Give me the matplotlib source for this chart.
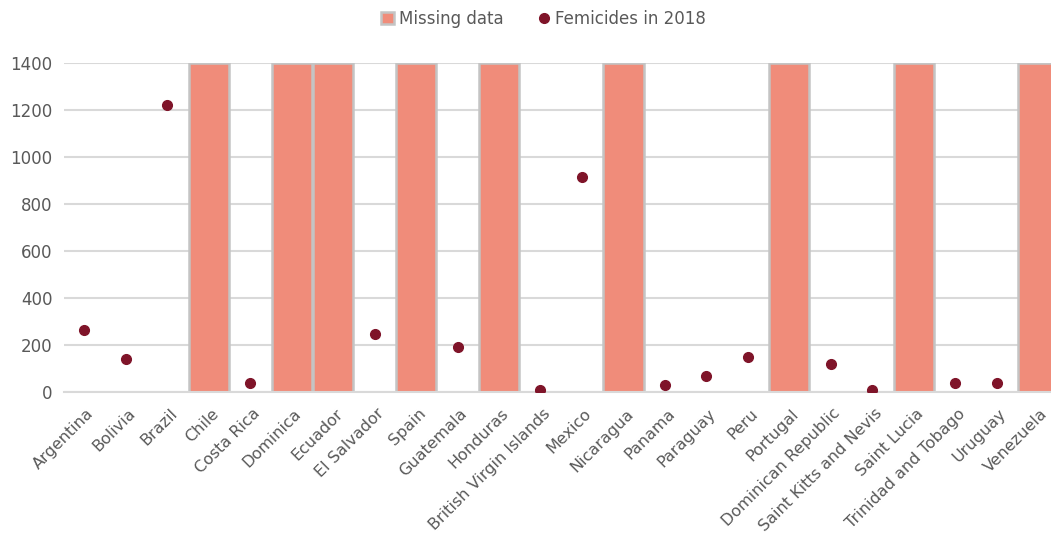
import matplotlib
matplotlib.use('Agg')
from matplotlib import pyplot as plt
from matplotlib import transforms
import numpy as np

countries = ['Argentina', 'Bolivia', 'Brazil', 'Chile', 'Costa Rica', 'Dominica',
             'Ecuador', 'El Salvador', 'Spain', 'Guatemala', 'Honduras',
             'British Virgin Islands', 'Mexico', 'Nicaragua', 'Panama', 'Paraguay',
             'Peru', 'Portugal', 'Dominican Republic', 'Saint Kitts and Nevis',
             'Saint Lucia', 'Trinidad and Tobago', 'Uruguay', 'Venezuela']

# femicides in 2018 (None = missing)
femicides = [265, 140, 1220, None, 40, None, None, 245, None, 190, None, 10,
             915, None, 30, 70, 150, None, 120, 10, None, 40, 40, None]

# missing data bars drawn to the top of the axis
missing = [0, 0, 0, 1400, 0, 1400, 1400, 0, 1400, 0, 1400, 0,
           0, 1400, 0, 0, 0, 1400, 0, 0, 1400, 0, 0, 1400]

bar_color = '#F08C7A'
dot_color = '#7F1429'
text_color = '#595959'

fig = plt.figure(figsize=(10.51, 5.41), dpi=100)
ax = fig.add_axes([0.0605, 0.2754, 0.947, 0.608])

x = np.arange(len(countries))
bars = ax.bar(x, missing, width=0.97, color=bar_color, edgecolor='#C4C4C4',
              linewidth=1.8, label='Missing data', zorder=2)

fx = [i for i, v in enumerate(femicides) if v is not None]
fy = [v for v in femicides if v is not None]
dots, = ax.plot(fx, fy, 'o', color=dot_color, markersize=7,
                label='Femicides in 2018', zorder=3)

ax.set_ylim(0, 1400)
ax.set_xlim(-0.5, len(countries) - 0.5)
ax.set_yticks(range(0, 1401, 200))
ax.yaxis.grid(True, color='#D9D9D9', linewidth=1.5, zorder=0)
ax.set_axisbelow(True)
for s in ['top', 'right', 'left']:
    ax.spines[s].set_visible(False)
ax.spines['bottom'].set_color('#D9D9D9')
ax.spines['bottom'].set_linewidth(1.5)

ax.tick_params(axis='both', length=0, colors=text_color, labelsize=11.5)
ax.tick_params(axis='y', labelsize=12, pad=8)
ax.tick_params(axis='x', pad=10)
ax.set_xticks(x)
ax.set_xticklabels(countries, rotation=45, ha='right', rotation_mode='anchor')
shift = transforms.ScaledTranslation(2 / 100, 0, fig.dpi_scale_trans)
for lab in ax.get_xticklabels():
    lab.set_transform(lab.get_transform() + shift)

leg = fig.legend([bars, dots], ['Missing data', 'Femicides in 2018'],
                 loc='upper center', bbox_to_anchor=(0.517, 1.01), ncol=2,
                 frameon=False, fontsize=12, handlelength=0.8,
                 handletextpad=0.3, columnspacing=2.0)
for t in leg.get_texts():
    t.set_color(text_color)

fig.savefig('out.png', dpi=100)
